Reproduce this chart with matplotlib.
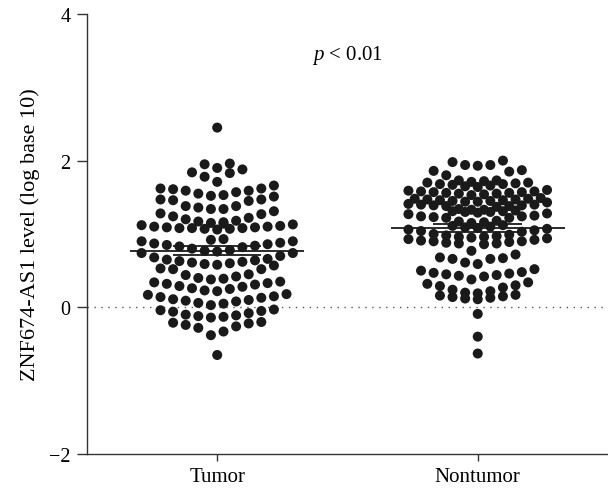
import numpy as np
import matplotlib
matplotlib.use('Agg')
import matplotlib.pyplot as plt

plt.rcParams['font.family'] = ['Liberation Serif', 'DejaVu Serif']
plt.rcParams['mathtext.fontset'] = 'custom'
plt.rcParams['mathtext.rm'] = 'Liberation Serif'
plt.rcParams['mathtext.it'] = 'Liberation Serif:italic'

groups = ['Tumor', 'Nontumor']

tumor = [
    2.45,
    1.96, 1.95, 1.90, 1.88, 1.83,
    1.84, 1.78, 1.71,
    1.66, 1.62, 1.62, 1.61, 1.59, 1.59, 1.57, 1.55, 1.53, 1.52, 1.51,
    1.47, 1.47, 1.46, 1.45, 1.38, 1.38, 1.36, 1.34, 1.34,
    1.31, 1.28, 1.27, 1.24, 1.22, 1.20, 1.18, 1.17, 1.16, 1.15, 1.14, 1.13, 1.12,
    1.11, 1.10, 1.10, 1.09, 1.09, 1.08, 1.08, 1.08, 1.07, 1.07, 1.06,
    0.93, 0.92, 0.90, 0.90, 0.88, 0.87, 0.86, 0.85, 0.84, 0.83, 0.82,
    0.80, 0.78, 0.77, 0.76, 0.74,
    0.74, 0.70, 0.68, 0.66, 0.65, 0.64, 0.63, 0.62, 0.61, 0.60, 0.59, 0.58, 0.57,
    0.53, 0.52, 0.52,
    0.45, 0.44, 0.42, 0.40, 0.39, 0.38,
    0.35, 0.34, 0.33, 0.32, 0.31, 0.29, 0.28, 0.26, 0.25, 0.23, 0.22,
    0.18, 0.17, 0.15, 0.14, 0.13, 0.11, 0.10, 0.09, 0.08, 0.06, 0.05, 0.03,
    -0.03, -0.04, -0.05, -0.06, -0.08, -0.10, -0.11, -0.12, -0.13, -0.14,
    -0.20, -0.21, -0.22, -0.24, -0.26, -0.28, -0.33, -0.38,
    -0.65,
]

nontumor = [
    2.00, 1.98, 1.94, 1.94, 1.93, 1.87, 1.86, 1.85, 1.80,
    1.73, 1.73, 1.72, 1.71, 1.70, 1.70, 1.69, 1.68, 1.68, 1.67, 1.66, 1.65, 1.64,
    1.60, 1.59, 1.58, 1.58, 1.57, 1.57, 1.56, 1.56, 1.55, 1.55, 1.54, 1.53,
    1.49, 1.48, 1.48, 1.47, 1.47, 1.46, 1.46, 1.45, 1.45, 1.44, 1.44, 1.43,
    1.41, 1.40, 1.40, 1.39, 1.39, 1.38, 1.38, 1.37,
    1.34, 1.33, 1.33, 1.32, 1.31, 1.31, 1.30, 1.30, 1.29, 1.28, 1.27,
    1.25, 1.24, 1.24, 1.23, 1.22, 1.22,
    1.18, 1.17, 1.16, 1.15,
    1.12, 1.11, 1.10, 1.09, 1.08, 1.07, 1.06, 1.05, 1.04, 1.03,
    1.00, 0.99, 0.98, 0.97, 0.96, 0.95,
    0.96, 0.94, 0.93, 0.92, 0.91, 0.90, 0.90, 0.89, 0.88, 0.87, 0.87, 0.86,
    0.77,
    0.72, 0.68, 0.67, 0.66, 0.66,
    0.61, 0.59,
    0.52, 0.50, 0.48, 0.47, 0.46, 0.45, 0.44, 0.43, 0.42, 0.38,
    0.34, 0.32, 0.30, 0.29,
    0.27, 0.24, 0.22, 0.20, 0.19, 0.17, 0.16, 0.15, 0.14, 0.13, 0.12, 0.11,
    -0.09, -0.40, -0.63,
]

# mean and SEM
means = [0.77, 1.08]
sems = [0.06, 0.05]

yticks = [-2, 0, 2, 4]

fig = plt.figure(figsize=(6.08, 4.89), dpi=100)
ax = fig.add_axes([0.143, 0.0695, 0.857, 0.9])
ax.set_xlim(-0.5, 1.5)
ax.set_ylim(-2, 4)

xpx = ax.get_window_extent().width / 2.0


def row_offsets(values, binh=0.19, step=12.6, nmax=12):
    # prism-like rows: bin the values, lay each bin out centre-out,
    # the overflow goes on top of the middle of the row
    vals = np.asarray(values)
    xs = np.zeros(len(vals))
    bins = np.floor(vals / binh).astype(int)
    for b in np.unique(bins):
        idx = np.where(bins == b)[0]
        idx = idx[np.argsort(vals[idx], kind='stable')]
        n_main = min(len(idx), nmax)
        pos = (np.arange(n_main) - (n_main - 1) / 2.0) * step
        pos = sorted(pos, key=lambda p: (abs(p), p))
        xs[idx[:n_main]] = pos
        rest = idx[n_main:]
        m = len(rest)
        if m:
            extra = (np.arange(m) - (m - 1) / 2.0) * step
            if (n_main - m) % 2 == 0:
                extra = extra + step / 2.0
            xs[rest] = sorted(extra, key=lambda p: (abs(p), p))
    return xs / xpx


ax.axhline(0, color='#555555', lw=1.0, ls=(0, (1, 4)), zorder=1)

for k, vals in enumerate([tumor, nontumor]):
    xo = row_offsets(vals, nmax=[13, 12][k])
    ax.scatter(k + xo, vals, s=52, color='#1a1a1a', edgecolors='none', zorder=2)
    m, se = means[k], sems[k]
    ax.hlines(m, k - 0.334, k + 0.334, color='#1a1a1a', lw=1.3, zorder=3)
    ax.hlines([m - se, m + se], k - 0.17, k + 0.17, color='#1a1a1a', lw=1.3, zorder=3)

ax.text(0.5, 3.45, r'$p$ < 0.01', ha='center', va='center', fontsize=15)

ax.spines['top'].set_visible(False)
ax.spines['right'].set_visible(False)
for s in ['left', 'bottom']:
    ax.spines[s].set_color('#333333')
    ax.spines[s].set_linewidth(1.0)

ax.set_yticks(yticks)
ax.set_yticklabels(['\u22122', '0', '2', '4'])
ax.set_xticks([0, 1])
ax.set_xticklabels(groups)
ax.tick_params(axis='y', direction='out', length=7, width=1, color='#333333',
               labelsize=14.5, pad=5)
ax.tick_params(axis='x', direction='out', length=5, width=1, color='#333333',
               labelsize=15, pad=4)
ax.set_ylabel('ZNF674-AS1 level (log base 10)', fontsize=16, labelpad=6)

fig.savefig('out.png', dpi=100, facecolor='white')
